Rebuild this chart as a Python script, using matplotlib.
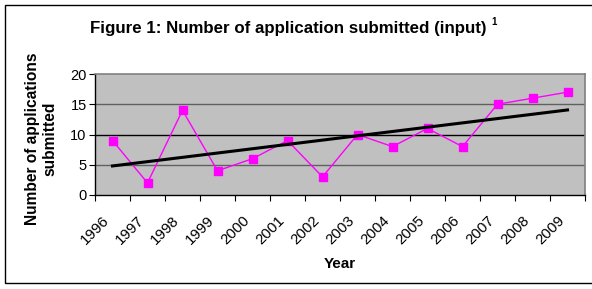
import matplotlib.pyplot as plt
import numpy as np
from matplotlib.patches import Rectangle

years = ["1996", "1997", "1998", "1999", "2000", "2001", "2002",
         "2003", "2004", "2005", "2006", "2007", "2008", "2009"]
applications = [9, 2, 14, 4, 6, 9, 3, 10, 8, 11, 8, 15, 16, 17]

plt.rcParams["font.family"] = ["Liberation Sans", "DejaVu Sans"]

fig = plt.figure(figsize=(5.92, 2.89), dpi=100)
fig.patches.append(Rectangle((5 / 592, 6 / 289), 590 / 592, 278 / 289,
                             transform=fig.transFigure, fill=False,
                             edgecolor="black", linewidth=1))
ax = fig.add_axes([95 / 592, 1 - 195 / 289, 490 / 592, 121 / 289])

x = np.arange(len(years))
ax.set_facecolor("#c0c0c0")
for level in (5, 15):
    ax.axhline(level, color="#606060", linewidth=1, zorder=1)
ax.axhline(10, color="black", linewidth=1, zorder=1)

ax.plot(x, applications, color="#ff00ff", linewidth=1, marker="s",
        markersize=6, zorder=3)

# linear trend line, as in the spreadsheet
slope, intercept = np.polyfit(x, applications, 1)
ax.plot(x, slope * x + intercept, color="black", linewidth=2.2, zorder=4)

ax.set_xlim(-0.5, len(years) - 0.5)
ax.set_ylim(0, 20)
ax.set_yticks([0, 5, 10, 15, 20])
ax.set_xticks(list(x - 0.5) + [len(years) - 0.5])
ax.set_xticks(x - 0.3, minor=True)
ax.tick_params(axis="x", which="major", labelbottom=False, length=4,
               direction="out")
ax.tick_params(axis="x", which="minor", length=0, labelsize=10.8, pad=13)
ax.set_xticklabels(years, minor=True, rotation=45, ha="right",
                   rotation_mode="anchor")
ax.tick_params(axis="y", length=4, labelsize=10.5, pad=2)

for side in ("top", "right"):
    ax.spines[side].set_color("#808080")
    ax.spines[side].set_linewidth(1.2)
for side in ("left", "bottom"):
    ax.spines[side].set_color("black")
    ax.spines[side].set_linewidth(1)

fig.text(288 / 592, 1 - 28 / 289,
         "Figure 1: Number of application submitted (input)",
         ha="center", va="center", fontsize=12.2, fontweight="bold")
fig.text(494 / 592, 1 - 22 / 289, "1", ha="center", va="center",
         fontsize=7, fontweight="bold")
fig.text(41 / 592, 1 - 139 / 289, "Number of applications\nsubmitted",
         ha="center", va="center", rotation=90, fontsize=11.2,
         fontweight="bold", linespacing=1.25)
fig.text(340 / 592, 1 - 264 / 289, "Year", ha="center", va="center",
         fontsize=11, fontweight="bold")

fig.savefig("out.png", dpi=100)
